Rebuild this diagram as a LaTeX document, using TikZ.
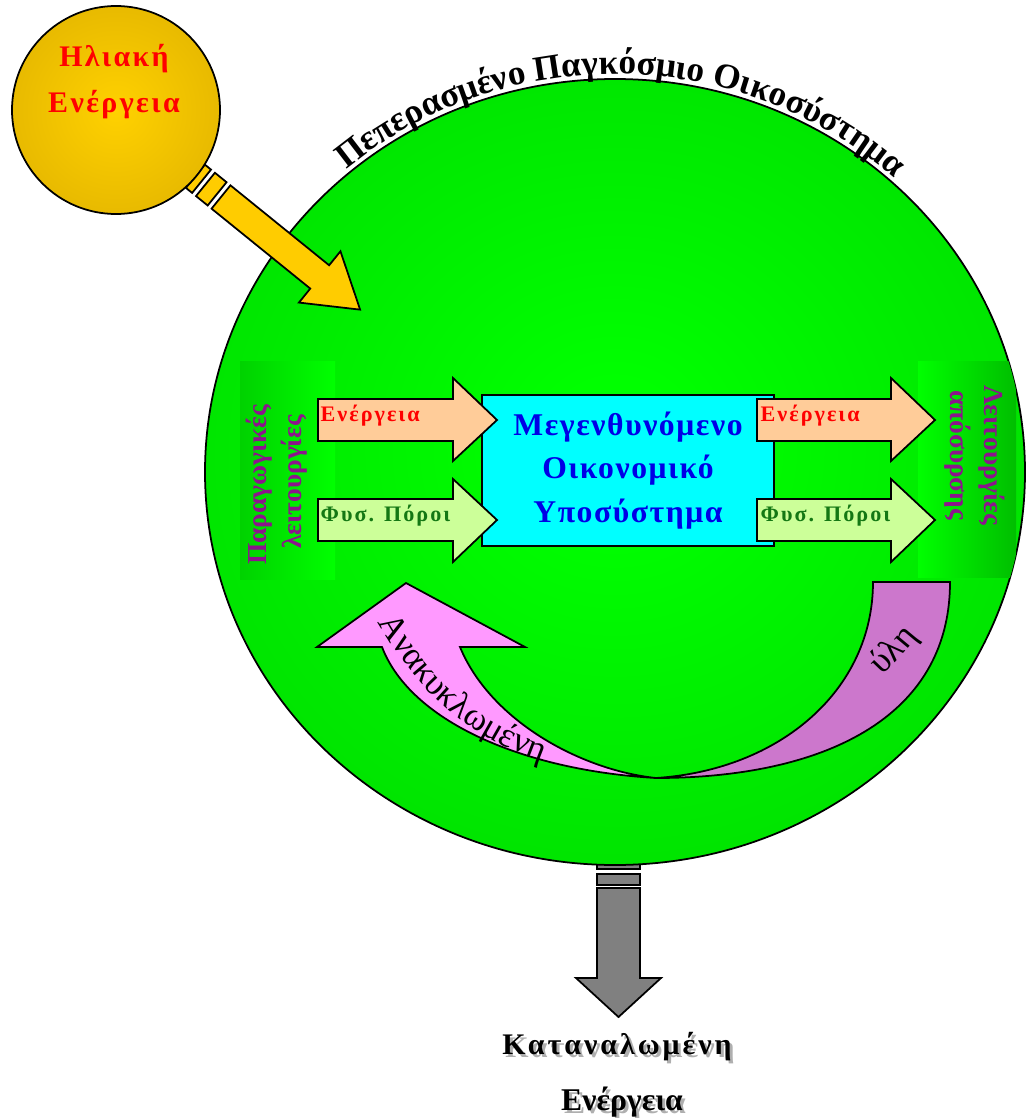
\documentclass[tikz,border=0pt]{standalone}
\usepackage{fontspec}
\setmainfont{Liberation Serif}
\newfontfamily\widefont[LetterSpace=8]{Liberation Serif}
\newfontfamily\flowfont[LetterSpace=9]{Liberation Serif}
\newfontfamily\econfont[LetterSpace=5]{Liberation Serif}
\newfontfamily\lostfont[LetterSpace=10]{Liberation Serif}
\usetikzlibrary{decorations.text}

\definecolor{sungold}{RGB}{255,204,0}
\definecolor{ecolight}{RGB}{0,255,0}
\definecolor{panelgreen}{RGB}{0,210,0}
\definecolor{paneldark}{RGB}{0,190,0}
\definecolor{boxcyan}{RGB}{0,255,255}
\definecolor{econblue}{RGB}{0,0,230}
\definecolor{energypeach}{RGB}{255,204,153}
\definecolor{respale}{RGB}{204,255,153}
\definecolor{resgreen}{RGB}{20,120,20}
\definecolor{panelpurple}{RGB}{140,20,140}
\definecolor{recpink}{RGB}{255,153,255}
\definecolor{recmauve}{RGB}{204,119,204}
\definecolor{wastegray}{RGB}{128,128,128}
\definecolor{shadowgray}{RGB}{175,175,175}

\pgfdeclareradialshading{sunglow}{\pgfpoint{0bp}{0bp}}{rgb(0bp)=(1,0.82,0); rgb(50bp)=(0.82,0.64,0)}
\pgfdeclareradialshading{ecoglow}{\pgfpoint{0bp}{2bp}}{rgb(0bp)=(0,1,0); rgb(4bp)=(0,1,0); rgb(38bp)=(0,0.84,0); rgb(50bp)=(0,0.8,0)}

\tikzset{
  outline/.style={draw=black, line width=0.5pt},
  suntext/.style={anchor=base, inner sep=0pt, text=red, font=\widefont\bfseries\fontsize{8.5}{10}\selectfont},
  econbox/.style={outline, fill=boxcyan, minimum width=2.92cm, minimum height=1.51cm, inner sep=0pt,
    align=center, text=econblue, font=\econfont\bfseries\fontsize{9}{12.4}\selectfont},
  flowlabel/.style={anchor=base west, inner sep=0pt, font=\flowfont\bfseries\fontsize{6.3}{7}\selectfont},
  paneltext/.style={anchor=base, inner sep=0pt, text=panelpurple, font=\bfseries\fontsize{7.8}{9}\selectfont},
  losttext/.style={anchor=base, inner sep=0pt, font=\bfseries\fontsize{9}{10}\selectfont},
}

\begin{document}
\begin{tikzpicture}[x=0.01cm, y=-0.01cm]
    \useasboundingbox (0,0) rectangle (1026,1118);

    % Consumed energy arrow
    \draw[outline, fill=wastegray] (597,860) rectangle (640,869);
    \draw[outline, fill=wastegray] (597,874) rectangle (640,885);
    \draw[outline, fill=wastegray] (597,888) -- (640,888) -- (640,978) -- (661,978)
        -- (618.5,1017) -- (576,978) -- (597,978) -- cycle;

    % Ecosystem
    \shadedraw[shading=ecoglow, outline] (615,472) ellipse[x radius=410, y radius=393];
    \path[decorate, decoration={text along path, text align=center,
        text={|\bfseries\fontsize{10}{12}\selectfont|Πεπερασμένο Παγκόσμιο Οικοσύστημα}}]
        (302.5,210.9) arc[start angle=221, end angle=321, x radius=414, y radius=398];

    % Solar energy arrow
    \begin{scope}[shift={(221,197)}, rotate=-39]
        \draw[outline, fill=sungold] (-33,-15) rectangle (-25,15);
        \draw[outline, fill=sungold] (-20,-15) rectangle (-5,15);
        \draw[outline, fill=sungold] (0,-15) -- (127,-15) -- (127,-33) -- (179,0)
            -- (127,33) -- (127,15) -- (0,15) -- cycle;
    \end{scope}

    % Sun
    \shadedraw[shading=sunglow, outline] (116,110) circle[radius=104];
    \node[suntext] (sunA) at (114,67) {Ηλιακή};
    \node[suntext] (sunB) at (114,112) {Ενέργεια};

    % Side panels
    \begin{scope}
        \clip (615,472) ellipse[x radius=410, y radius=393];
        \shade[left color=panelgreen, right color=ecolight] (240,361) rectangle (335,579);
        \shade[left color=ecolight, right color=paneldark] (918,361) rectangle (1016,577);
    \end{scope}
    \node[paneltext, rotate=90] (prodA) at (266,485) {Παραγωγικές};
    \node[paneltext, rotate=90] (prodB) at (301,482) {λειτουργίες};
    \node[paneltext, rotate=-90] (dispA) at (984,455) {Λειτουργίες};
    \node[paneltext, rotate=-90] (dispB) at (950,455) {απόσυρσης};

    % Economic subsystem
    \node[econbox] (econ) at (628,470.5) {Μεγενθυνόμενο\\Οικονομικό\\Υποσύστημα};

    % Flows in and out
    \draw[outline, fill=energypeach] (318,399) -- ++(135,0) -- ++(0,-21) -- ++(44,42)
        -- ++(-44,41) -- ++(0,-20) -- ++(-135,0) -- cycle;
    \draw[outline, fill=respale] (318,499) -- ++(135,0) -- ++(0,-20) -- ++(44,41)
        -- ++(-44,42) -- ++(0,-21) -- ++(-135,0) -- cycle;
    \draw[outline, fill=energypeach] (757,399) -- ++(134,0) -- ++(0,-21) -- ++(44,42)
        -- ++(-44,41) -- ++(0,-20) -- ++(-134,0) -- cycle;
    \draw[outline, fill=respale] (757,499) -- ++(134,0) -- ++(0,-20) -- ++(44,41)
        -- ++(-44,42) -- ++(0,-21) -- ++(-134,0) -- cycle;
    \node[flowlabel, text=red] (inE) at (320,421) {Ενέργεια};
    \node[flowlabel, text=resgreen] (inR) at (320,521) {Φυσ. Πόροι};
    \node[flowlabel, text=red] (outE) at (760,421) {Ενέργεια};
    \node[flowlabel, text=resgreen] (outR) at (760,521) {Φυσ. Πόροι};

    % Recycled matter
    \draw[outline, fill=recpink] (656,778) .. controls (520,770) and (410,720) .. (382,647)
        -- (317,647) -- (406,583) -- (525,647) -- (460,647)
        .. controls (490,720) and (580,770) .. (656,778) -- cycle;
    \draw[outline, fill=recmauve] (656,778) .. controls (820,778) and (950,720) .. (950,582)
        -- (873,582) .. controls (873,690) and (780,770) .. (656,778) -- cycle;
    \path[decorate, decoration={text along path, text align=left,
        text={|\fontsize{10}{12}\selectfont|Ανακυκλωμένη}}]
        (378,622) .. controls (420,695) and (470,740) .. (560,768);
    \path[decorate, decoration={text along path, text align=center,
        text={|\fontsize{10}{12}\selectfont|ύλη}}]
        (868,690) .. controls (885,675) and (915,643) .. (930,620);

    % Consumed energy label
    \node[losttext, text=shadowgray, font=\lostfont\bfseries\fontsize{8.5}{10}\selectfont] (lostAs) at (620,1057) {Καταναλωμένη};
    \node[losttext, font=\lostfont\bfseries\fontsize{8.5}{10}\selectfont] (lostA) at (617,1054) {Καταναλωμένη};
    \node[losttext, text=shadowgray] (lostBs) at (625,1113) {Ενέργεια};
    \node[losttext] (lostB) at (622,1110) {Ενέργεια};
\end{tikzpicture}
\end{document}
